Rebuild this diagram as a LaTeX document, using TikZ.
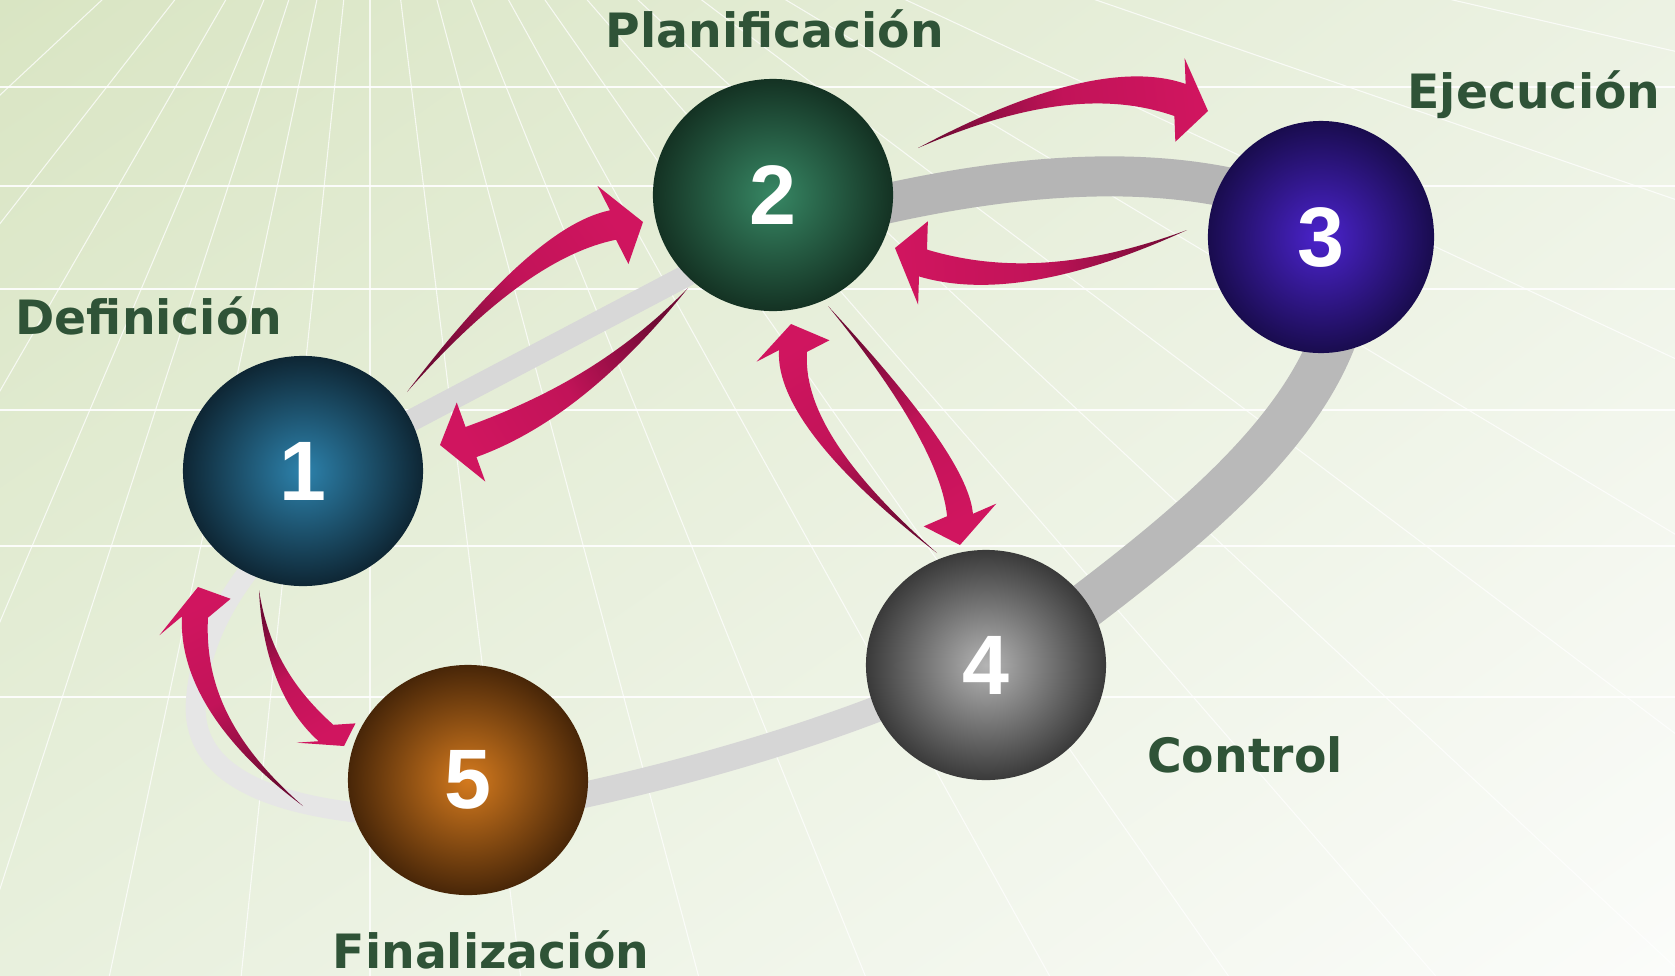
\documentclass[tikz,border=0pt]{standalone}
\usepackage{fontspec}
\setmainfont{DejaVu Sans}
\newfontfamily\numfont{Liberation Sans}
\usepackage{tikz}
\usetikzlibrary{calc}
\usetikzlibrary{shapes.geometric}
\usetikzlibrary{shadings}

\definecolor{bgA}{RGB}{217,229,195}
\definecolor{bgB}{RGB}{236,242,227}
\definecolor{bgC}{RGB}{232,240,221}
\definecolor{bgD}{RGB}{251,252,250}
\definecolor{phasegreen}{RGB}{47,83,55}
\definecolor{arrred}{RGB}{208,21,95}
\definecolor{arrdark}{RGB}{112,10,52}
\definecolor{ring12}{RGB}{216,216,216}
\definecolor{ring23}{RGB}{181,181,181}
\definecolor{ring34}{RGB}{185,185,185}
\definecolor{ring45}{RGB}{214,214,214}
\definecolor{ring51}{RGB}{230,230,230}

\pgfdeclarelayer{back}
\pgfdeclarelayer{band}
\pgfsetlayers{back,band,main}

\tikzset{
  sphere/.style={ellipse, minimum width=2.4cm, minimum height=2.32cm, inner sep=0pt,
    text=white, font=\numfont\bfseries\fontsize{24}{24}\selectfont},
  phase/.style={anchor=base, inner sep=0pt, text=phasegreen,
    font=\bfseries\fontsize{13.45}{16}\selectfont},
  arrowpaint/.style={top color=arrred, bottom color=arrdark, middle color=arrred!85!arrdark},
  ray/.style={white, line width=0.3pt, opacity=0.75},
  hline/.style={white, line width=0.7pt, opacity=0.9}
}

\newcommand{\crescarrow}[9]{%
  \coordinate (#1t) at (#2);
  \coordinate (#1c) at (#3);
  \coordinate (#1n) at (#4);
  \coordinate (#1h) at (#5);
  \coordinate (#1p) at ($(#1t)!0.667!(#1c)$);
  \coordinate (#1q) at ($(#1n)!0.667!(#1c)$);
  \path[arrowpaint, shading angle=#8] (#1t)
    .. controls ($(#1p)!#6*0.003cm!-90:(#1c)$) and ($(#1q)!#6*0.01cm!90:(#1c)$) .. ($(#1n)!#6*0.01cm!90:(#1c)$)
    -- ($(#1n)!#7*0.01cm!90+#9:(#1c)$) -- (#1h)
    -- ($(#1n)!#7*0.01cm!-90+#9:(#1c)$) -- ($(#1n)!#6*0.01cm!-90:(#1c)$)
    .. controls ($(#1q)!#6*0.01cm!-90:(#1c)$) and ($(#1p)!#6*0.003cm!90:(#1c)$) .. cycle;
}

\begin{document}
\begin{tikzpicture}[line cap=round,line join=round,x=0.01cm,y=-0.01cm]
  \useasboundingbox (0,0) rectangle (1675,975);
  \begin{pgfonlayer}{back}
    \shade[upper left=bgA, upper right=bgB, lower left=bgC, lower right=bgD] (0,0) rectangle (1675,975);
    \begin{scope}
      \clip (0,0) rectangle (1675,975);
      \foreach \b in {137,128,120,113,108,102,96,90,83,75,68,61,55,49,43,37,31,25,19,13}
        \draw[ray] (370,-250) -- ++(\b:3000);
      \foreach \y in {87,186,289,410,546,697}
        \draw[hline] (0,\y) -- (1675,\y);
    \end{scope}
  \end{pgfonlayer}

  \node[sphere, inner color={rgb,255:red,45;green,130;blue,172}, outer color={rgb,255:red,14;green,38;blue,52}, minimum height=2.3cm] (s1) at (303,471) {1};
  \node[sphere, inner color={rgb,255:red,55;green,135;blue,100}, outer color={rgb,255:red,20;green,50;blue,35}] (s2) at (773,195) {2};
  \node[sphere, inner color={rgb,255:red,75;green,35;blue,205}, outer color={rgb,255:red,25;green,12;blue,78}, minimum width=2.26cm] (s3) at (1321,237) {3};
  \node[sphere, inner color={rgb,255:red,180;green,180;blue,180}, outer color={rgb,255:red,58;green,58;blue,58}, minimum height=2.3cm] (s4) at (986,665) {4};
  \node[sphere, inner color={rgb,255:red,212;green,122;blue,30}, outer color={rgb,255:red,72;green,38;blue,8}, minimum height=2.3cm] (s5) at (468,780) {5};

  \begin{pgfonlayer}{band}
    \draw[ring12, line width=0.22cm] (340,458) -- (735,250);
    \draw[ring23, line width=0.40cm] (850,212) .. controls (960,185) and (1110,160) .. (1240,190);
    \draw[ring34, line width=0.46cm] (1345,300) .. controls (1320,420) and (1200,520) .. (1060,625);
    \draw[ring45, line width=0.26cm] (900,700) .. controls (800,740) and (680,775) .. (560,800);
    \draw[ring51, line width=0.20cm] (380,815) .. controls (260,805) and (190,770) .. (196,700)
      .. controls (200,640) and (230,590) .. (270,545);
  \end{pgfonlayer}

  \crescarrow{A}{407,392}{530,242}{613,225}{643,222}{15}{42}{-54}{10}
  \crescarrow{B}{688,288}{590,399}{471,442}{440,445}{16}{42}{122}{0}
  \crescarrow{C}{918,148}{1086,67}{1180,100}{1208,111}{17}{42}{-83}{13}
  \crescarrow{D}{1187,230}{1030,295}{923,263}{895,248}{14}{42}{93}{10}
  \crescarrow{E}{828,306}{954,451}{960,515}{960,545}{13}{38}{-151}{12}
  \crescarrow{F}{937,553}{788,430}{793,351}{791,324}{14}{38}{32}{20}
  \crescarrow{G}{259,590}{268,681}{326,733}{344,746}{11}{31}{-151}{-30}
  \crescarrow{H}{303,806}{190,715}{195,617}{198,587}{13}{40}{26}{30}

  \node[phase] (l1) at (149,334) {Definición};
  \node[phase] (l2) at (775,47) {Planificación};
  \node[phase] (l3) at (1534,108) {Ejecución};
  \node[phase] (l4) at (1245,772) {Control};
  \node[phase] (l5) at (491,968) {Finalización};
\end{tikzpicture}
\end{document}
